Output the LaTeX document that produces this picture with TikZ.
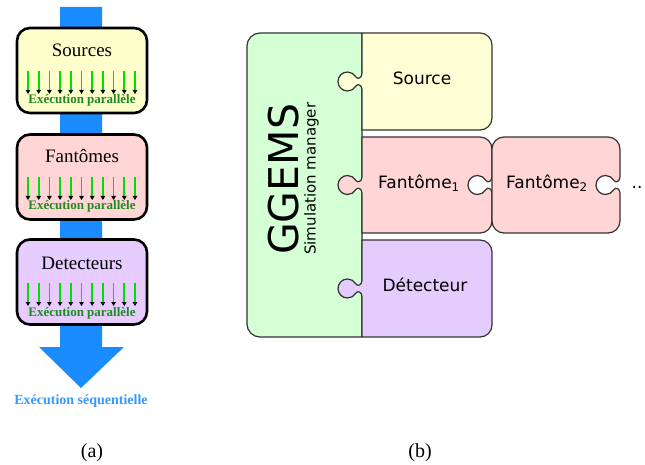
\documentclass[tikz,border=0pt]{standalone}
\usepackage{fontspec}
\setmainfont{Liberation Serif}
\newfontfamily\dejavu{DejaVu Sans}
\usetikzlibrary{arrows.meta}
\definecolor{barblue}{HTML}{1A8CFF}
\definecolor{seqblue}{HTML}{3399FF}
\definecolor{arrgreen}{HTML}{00E000}
\definecolor{pargreen}{HTML}{1E8C1E}
\definecolor{boxyel}{HTML}{FFFFCC}
\definecolor{boxpink}{HTML}{FFD5D5}
\definecolor{boxpurp}{HTML}{E6CCFF}
\definecolor{ggreen}{HTML}{D5FFD5}
\definecolor{pyel}{HTML}{FFFFD5}
\definecolor{ppink}{HTML}{FFD5D5}
\definecolor{ppurp}{HTML}{E5CCFF}
\definecolor{edgegray}{HTML}{333333}
% knob on a vertical edge at x=#1 centred at y=#2, bulging to the left
\newcommand\knobdown[2]{-- (#1,#2-8) .. controls (#1,#2-4) and (#1-4.27,#2-1.29) .. (#1-6.27,#2-4.75) .. controls (#1-7.97,#2-7.69) and (#1-11.11,#2-9.5) .. (#1-14.5,#2-9.5) .. controls (#1-19.75,#2-9.5) and (#1-24,#2-5.25) .. (#1-24,#2) .. controls (#1-24,#2+5.25) and (#1-19.75,#2+9.5) .. (#1-14.5,#2+9.5) .. controls (#1-11.11,#2+9.5) and (#1-7.97,#2+7.69) .. (#1-6.27,#2+4.75) .. controls (#1-4.27,#2+1.29) and (#1,#2+4) .. (#1,#2+8)}
\newcommand\knobup[2]{-- (#1,#2+8) .. controls (#1,#2+4) and (#1-4.27,#2+1.29) .. (#1-6.27,#2+4.75) .. controls (#1-7.97,#2+7.69) and (#1-11.11,#2+9.5) .. (#1-14.5,#2+9.5) .. controls (#1-19.75,#2+9.5) and (#1-24,#2+5.25) .. (#1-24,#2) .. controls (#1-24,#2-5.25) and (#1-19.75,#2-9.5) .. (#1-14.5,#2-9.5) .. controls (#1-11.11,#2-9.5) and (#1-7.97,#2-7.69) .. (#1-6.27,#2-4.75) .. controls (#1-4.27,#2-1.29) and (#1,#2-4) .. (#1,#2-8)}
\begin{document}
\begin{tikzpicture}[x=1pt,y=-1pt,
  lbox/.style={draw=black, line width=2.6pt, rounded corners=13pt, minimum width=130pt, minimum height=85pt, inner sep=0pt},
  ltitle/.style={font=\fontsize{19}{22}\selectfont, anchor=base, inner sep=0pt},
  partext/.style={font=\bfseries\fontsize{13}{15}\selectfont, text=pargreen, anchor=base, inner sep=0pt},
  parr/.style={draw=arrgreen, line width=1.7pt, -{Stealth[color=black,length=4pt,width=4.5pt,inset=0pt]}},
  piece/.style={draw=edgegray, line width=1.2pt, line join=round},
  ptxt/.style={font=\dejavu\fontsize{17}{20}\selectfont, anchor=base, inner sep=0pt},
  captxt/.style={font=\fontsize{20}{24}\selectfont, anchor=base, inner sep=0pt},
]
\useasboundingbox (0,0) rectangle (645,465);
% ---------- (a) ----------
\fill[barblue] (60,7) -- (102,7) -- (102,347) -- (124,347) -- (81,388) -- (39,347) -- (60,347) -- cycle;
\node[lbox, fill=boxyel] (bsrc) at (82,70.5) {};
\node[lbox, fill=boxpink] (bfan) at (82,177) {};
\node[lbox, fill=boxpurp] (bdet) at (82,282) {};
\node[ltitle] (tsrc) at (82,57) {Sources};
\node[ltitle] (tfan) at (82,163) {Fantômes};
\node[ltitle] (tdet) at (82,269) {Detecteurs};
\foreach \t in {28,134,240}{
  \foreach \i in {0,...,10}{
    \draw[parr] (28+\i*10.7,\t+43) -- (28+\i*10.7,\t+66);
  }
  \node[partext] at (82,\t+76) {Exécution parallèle};
}
\node[font=\bfseries\fontsize{14}{16}\selectfont, text=seqblue, anchor=base, inner sep=0pt] (seq) at (81,404) {Exécution séquentielle};
% ---------- (b) ----------
\filldraw[piece, fill=ggreen] (362,33) -- (260,33) .. controls (252.82,33) and (247,38.82) .. (247,46) -- (247,324) .. controls (247,331.18) and (252.82,337) .. (260,337) -- (362,337) -- cycle;
\filldraw[piece, fill=pyel] (362,130) \knobup{362}{81.5} -- (362,33) -- (480,33) .. controls (486.63,33) and (492,38.37) .. (492,45) -- (492,118) .. controls (492,124.63) and (486.63,130) .. (480,130) -- cycle;
\filldraw[piece, fill=ppink] (362,233) \knobup{362}{185} -- (362,137) -- (480,137) .. controls (486.63,137) and (492,142.37) .. (492,149) \knobdown{492}{185} -- (492,221) .. controls (492,227.63) and (486.63,233) .. (480,233) -- cycle;
\filldraw[piece, fill=ppink] (504,137) -- (608,137) .. controls (614.63,137) and (620,142.37) .. (620,149) \knobdown{620}{185} -- (620,221) .. controls (620,227.63) and (614.63,233) .. (608,233) -- (504,233) .. controls (497.37,233) and (492,227.63) .. (492,221) -- (492,149) .. controls (492,142.37) and (497.37,137) .. (504,137) -- cycle;
\filldraw[piece, fill=ppurp] (362,337) \knobup{362}{288.5} -- (362,240) -- (480,240) .. controls (486.63,240) and (492,245.37) .. (492,252) -- (492,325) .. controls (492,331.63) and (486.63,337) .. (480,337) -- cycle;
\node[ptxt] (tsource) at (422,85) {Source};
\node[ptxt] (tfan1) at (419,188.5) {Fantôme\textsubscript{1}};
\node[ptxt] (tfan2) at (547,188.5) {Fantôme\textsubscript{2}};
\node[ptxt] (tdetect) at (425,291.5) {Détecteur};
\node[ptxt] (dots) at (637,188.5) {..};
\node[rotate=90, anchor=base west, inner sep=0pt, font=\dejavu\fontsize{41}{45}\selectfont] (ggems) at (298,255) {GGEMS};
\node[rotate=90, anchor=base west, inner sep=0pt, font=\dejavu\fontsize{15}{18}\selectfont] (simman) at (315.5,255) {Simulation manager};
% ---------- captions ----------
\node[captxt] (capa) at (92,457) {(a)};
\node[captxt] (capb) at (420,457) {(b)};
\end{tikzpicture}
\end{document}
